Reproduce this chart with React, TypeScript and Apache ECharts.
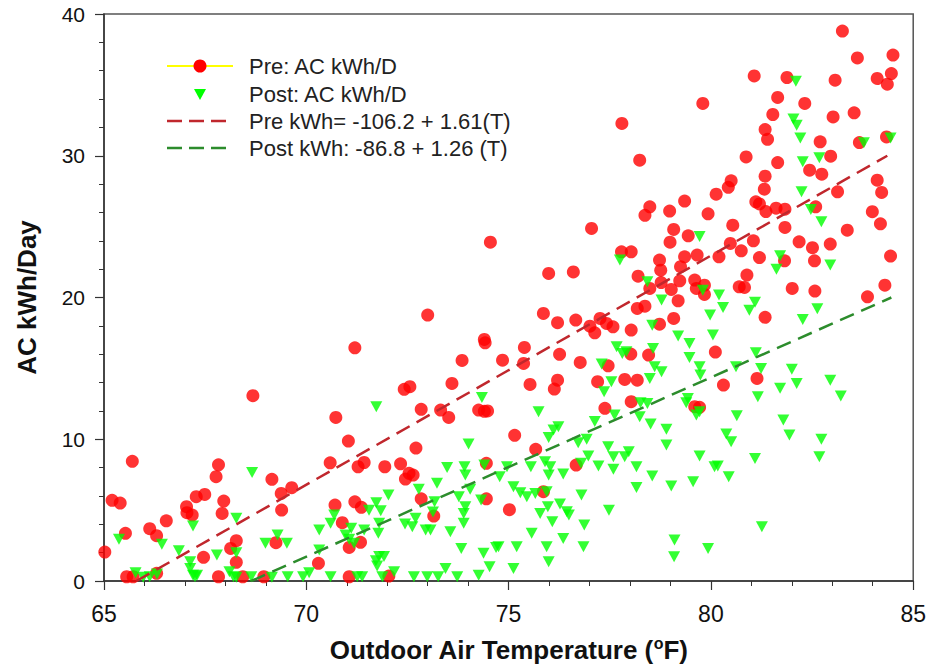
import React, { useEffect, useRef } from "react";
import * as echarts from "echarts";

// Axis settings
const xTicks = [65, 70, 75, 80, 85];
const yTicks = [0, 10, 20, 30, 40];

// Pre-retrofit: outdoor temperature (°F) and AC kWh/day
const preX = [
  65.02, 65.2, 65.4, 65.53, 65.7, 65.56, 65.72, 66.13, 66.3, 66.54, 66.3, 67.04, 67.05, 67.18, 67.28, 67.49,
  67.77, 67.83, 67.96, 67.92, 67.83, 67.46, 68.27, 68.13, 68.27, 68.43, 68.68, 68.95, 69.15, 69.38, 69.64, 69.39,
  69.25, 70.3, 73.0, 71.2, 74.4, 74.42, 73.85, 74.85, 70.73, 72.42, 72.56, 73.6, 72.84, 73.32, 73.52, 74.26,
  74.4, 74.48, 71.04, 72.71, 70.59, 71.28, 71.43, 71.94, 72.33, 72.54, 72.45, 72.64, 74.45, 75.15, 70.71, 71.2,
  71.36, 70.89, 71.06, 71.34, 71.06, 72.04, 72.84, 73.15, 74.45, 75.02, 74.55,
  78.49, 78.37, 78.98, 79.35, 79.93, 77.05, 79.08, 78.99, 79.44, 77.79, 78.03, 78.73, 75.99, 76.6, 78.2, 78.76,
  78.77, 79.35, 79.66, 79.25, 79.23, 79.6, 79.84, 79.64, 79.84, 79.02, 79.19, 78.49, 78.18, 78.37, 79.08, 78.73,
  75.86, 76.21, 76.66, 77.01, 77.13, 77.26, 77.42, 77.58, 78.03, 75.39, 75.37, 76.26, 76.77, 75.53, 76.21, 76.13,
  77.2, 77.87, 78.18, 77.46, 78.02, 78.46, 80.11, 77.38, 78.03, 79.6, 75.67, 76.67, 75.86,
  83.25, 83.62, 84.5, 84.46, 84.36, 84.11, 83.07, 81.07, 81.88, 79.8, 81.65, 82.32, 81.53, 83.02, 83.54, 81.34,
  81.4, 82.7, 83.67, 84.34, 80.87, 81.65, 82.96, 82.44, 82.74, 81.34, 81.32, 80.5, 80.43, 80.13, 84.11, 84.22,
  83.13, 81.11, 81.2, 81.36, 81.61, 81.83, 82.59, 80.54, 81.83, 83.99, 84.19, 83.37, 80.48, 81.05, 80.2, 80.75,
  81.2, 82.18, 82.51, 82.95, 81.82, 82.56, 84.44, 80.89, 80.7, 80.83, 82.01, 82.57, 83.87, 84.3,
  81.34, 80.31, 81.14, 79.72, 77.8, 78.24,
];
const preY = [
  2.04, 5.69, 5.5, 3.36, 8.44, 0.3, 0.3, 3.69, 3.2, 4.25, 0.54, 5.24, 4.82, 4.65, 5.95, 6.11,
  7.36, 8.2, 5.64, 4.77, 0.3, 1.67, 2.84, 2.3, 1.32, 0.3, 13.07, 0.3, 7.17, 6.18, 6.58, 5.0,
  2.7, 1.25, 18.76, 16.45, 17.04, 16.8, 15.56, 15.58, 11.54, 13.52, 13.71, 13.94, 12.11, 12.06, 11.54, 12.06,
  11.97, 12.0, 9.87, 9.38, 8.34, 8.06, 8.36, 8.06, 8.27, 7.6, 7.19, 7.47, 8.3, 10.28, 5.36, 5.59,
  5.2, 4.11, 2.37, 2.73, 0.3, 0.35, 5.8, 4.58, 5.8, 5.03, 23.9,
  26.4, 25.8, 26.1, 26.8, 25.9, 24.87, 24.8, 23.9, 24.35, 23.22, 23.22, 22.64, 21.7, 21.8, 21.5, 21.93,
  21.05, 22.87, 22.99, 22.17, 21.18, 21.23, 20.87, 20.64, 20.22, 20.57, 19.77, 20.64, 19.23, 19.39, 18.52, 18.12,
  18.88, 18.22, 18.41, 17.98, 17.51, 18.52, 18.17, 17.93, 17.7, 16.48, 15.35, 15.99, 15.42, 13.87, 14.17, 13.54,
  14.06, 14.22, 14.17, 15.18, 16.01, 15.94, 16.15, 12.18, 12.65, 12.3, 9.29, 8.18, 6.3,
  38.8, 36.9, 37.1, 35.8, 35.05, 35.45, 35.33, 35.63, 35.52, 33.69, 34.11, 33.69, 32.91, 32.74, 33.03, 31.85,
  31.16, 30.98, 30.93, 31.33, 29.92, 29.52, 29.97, 28.98, 28.7, 28.56, 27.64, 28.23, 27.77, 27.29, 28.28, 27.41,
  27.46, 26.75, 26.6, 26.06, 26.3, 26.23, 26.4, 25.1, 24.94, 26.05, 25.2, 24.75, 23.81, 24.0, 22.87, 23.29,
  22.82, 23.93, 23.51, 23.77, 22.59, 22.59, 22.92, 21.58, 20.75, 20.71, 20.64, 20.45, 20.05, 20.87,
  18.6, 13.82, 14.29, 12.25, 32.28, 29.69,
];

// Post-retrofit: outdoor temperature (°F) and AC kWh/day
const postX = [
  65.37, 65.78, 65.97, 66.13, 66.31, 66.43, 66.85, 67.13, 67.13, 67.2, 67.3, 67.25, 67.2, 67.79, 68.1, 68.27,
  68.27, 68.27, 68.2, 68.64, 68.66, 68.99, 69.29, 69.52, 69.15, 69.54, 69.92, 70.07, 70.32, 70.32,
  70.6, 70.6, 70.69, 70.97, 71.06, 71.11, 71.18, 71.26, 71.38, 71.43, 71.55, 71.73, 71.73, 71.8, 71.78, 71.84,
  71.72, 71.8, 71.92, 71.75, 71.88, 72.03, 72.17, 72.44, 72.62, 72.7, 72.66, 72.78, 72.99, 72.95, 73.07, 73.13,
  73.17, 73.23, 73.26, 73.44, 73.48, 73.56, 73.77, 73.73, 73.89, 73.89, 73.93, 74.01, 73.91, 73.93, 73.83, 74.05,
  74.26, 74.32, 74.34, 74.4, 74.38, 74.53, 74.69, 74.78, 74.96, 75.12, 75.12, 75.2,
  75.29, 75.45, 75.55, 75.66, 75.74, 75.78, 75.94, 75.97, 75.9, 76.03, 75.99, 75.99, 76.11, 76.23, 76.08, 76.27,
  76.44, 76.49, 76.35, 75.57, 75.99, 75.94, 74.75, 76.35, 76.85, 76.87, 76.8, 76.72, 76.93, 76.97, 76.79, 77.13,
  77.22, 77.36, 77.54, 77.48, 77.59, 77.59, 77.46, 77.62, 77.67, 77.75, 77.81, 77.91, 77.87, 77.97, 77.3, 78.16,
  78.16, 78.24, 78.26, 78.43, 78.49, 78.43, 78.55, 78.51, 78.55, 78.57, 78.61, 78.78, 78.78, 78.9, 78.9, 79.02,
  79.1, 79.09, 79.19, 79.39, 79.43, 79.47, 79.47, 79.56, 79.64, 79.72, 79.72, 79.74, 79.72, 79.8, 79.93, 79.98,
  80.05, 80.09,
  82.1, 82.04, 82.12, 82.21, 83.78, 84.44, 82.27, 82.68, 82.24, 82.47, 82.73, 81.71, 81.62, 82.95, 80.2, 80.3,
  81.09, 80.95, 82.63, 82.27, 81.11, 80.62, 81.24, 82.0, 82.12, 81.71, 81.16, 82.95, 83.21, 79.72, 80.64, 81.79,
  80.38, 80.5, 81.94, 82.73, 80.17, 80.44, 81.09, 82.68, 81.26,
];
const postY = [
  2.94, 0.59, 0.26, 0.3, 0.49, 2.59, 2.14, 1.36, 0.89, 0.4, 0.4, 0.3, 3.88, 1.83, 0.66, 2.0,
  4.42, 0.26, 0.3, 0.3, 7.66, 2.66, 3.24, 2.66, 0.26, 0.3, 0.3, 0.59, 3.6, 2.19,
  0.3, 4.07, 4.65, 3.24, 2.94, 3.72, 2.66, 0.3, 0.3, 3.6, 5.0, 12.3, 5.52, 4.07, 3.36, 4.96,
  1.43, 1.72, 1.72, 1.06, 0.3, 6.06, 0.66, 4.02, 3.83, 4.42, 0.3, 6.47, 0.3, 3.6, 3.6, 4.87,
  5.59, 6.89, 0.3, 0.89, 8.0, 3.48, 5.95, 0.3, 4.07, 4.77, 5.24, 9.66, 8.06, 7.47, 2.3, 6.47,
  0.4, 5.71, 12.94, 8.18, 1.95, 1.01, 2.37, 7.35, 8.06, 6.65, 0.89, 2.42,
  6.23, 5.95, 8.06, 6.18, 11.94, 4.77, 6.3, 5.24, 8.41, 8.06, 7.47, 10.13, 10.65, 10.88, 4.18, 5.43,
  4.89, 4.65, 7.55, 3.36, 1.36, 2.42, 2.42, 3.0, 2.42, 3.95, 6.06, 9.76, 10.0, 8.82, 8.3, 11.25,
  8.11, 13.35, 14.06, 5.0, 8.77, 7.88, 9.47, 11.71, 16.52, 22.64, 16.05, 16.17, 8.77, 9.12, 15.3, 8.06,
  6.6, 11.59, 12.58, 12.53, 14.29, 21.11, 18.05, 11.07, 7.41, 16.4, 15.11, 14.76, 19.82, 10.7, 9.59, 6.7,
  2.89, 1.71, 17.28, 12.58, 12.88, 16.76, 15.77, 7.0, 11.71, 8.81, 15.11, 14.53, 24.3, 20.52, 2.3, 18.76,
  17.35, 8.06,
  35.26, 32.6, 32.16, 31.26, 30.92, 31.26, 29.57, 29.86, 27.46, 26.2, 25.34, 22.94, 22.0, 22.29, 20.17, 19.3,
  19.67, 19.1, 19.2, 18.45, 16.1, 15.11, 15.0, 14.93, 13.94, 13.59, 13.0, 14.17, 13.05, 11.94, 11.66, 11.35,
  10.37, 9.82, 10.3, 10.0, 8.11, 7.36, 8.65, 8.77, 3.83,
];

// Regression lines (end points as drawn)
const preFitX = [65.8, 84.36];
const preFitY = [0.0, 30.0];
const postFitX = [68.64, 84.46];
const postFitY = [0.0, 20.0];

// Legend labels
const legendLabels = [
  "Pre: AC kWh/D",
  "Post: AC kWh/D",
  "Pre kWh= -106.2 + 1.61(T)",
  "Post kWh: -86.8 + 1.26 (T)",
];

const FONT = '"Liberation Sans", Arial, Helvetica, sans-serif';
const RED = "#ff0000";
const GREEN = "#00ff00";
const RED_DASH = "#c0272d";
const GREEN_DASH = "#2c8c2c";

export default function App() {
  const ref = useRef<HTMLDivElement>(null);

  useEffect(() => {
    if (!ref.current) return;
    const chart = echarts.init(ref.current, undefined, { renderer: "svg" });

    const pre = preX.map((x, i) => [x, preY[i]]);
    const post = postX.map((x, i) => [x, postY[i]]);
    const preFit = preFitX.map((x, i) => [x, preFitY[i]]);
    const postFit = postFitX.map((x, i) => [x, postFitY[i]]);

    const legendRows = [66, 94, 121, 148];
    const textX = 249;
    const lineX0 = 167;
    const lineX1 = 227;

    const axisCommon = {
      axisLine: { show: true, lineStyle: { color: "#333", width: 1.5 } },
      axisTick: { show: true, inside: false, length: 9, lineStyle: { color: "#333", width: 1.2 } },
      minorTick: { show: true, splitNumber: 5, length: 5, lineStyle: { color: "#333", width: 1 } },
      splitLine: { show: false },
      minorSplitLine: { show: false },
    };

    chart.setOption({
      animation: false,
      backgroundColor: "#ffffff",
      grid: {
        left: 104,
        right: 13,
        top: 14,
        bottom: 87,
        show: true,
        borderColor: "#555",
        borderWidth: 1.5,
        backgroundColor: "transparent",
      },
      xAxis: {
        type: "value",
        min: xTicks[0],
        max: xTicks[xTicks.length - 1],
        interval: xTicks[1] - xTicks[0],
        ...axisCommon,
        axisLabel: {
          color: "#111",
          fontSize: 23,
          fontFamily: FONT,
          margin: 21,
        },
        name: "{t|Outdoor Air Temperature (}{s|o}{t|F)}",
        nameLocation: "middle",
        nameGap: 54,
        nameTextStyle: {
          rich: {
            t: { fontSize: 26, fontWeight: "bold", fontFamily: FONT, color: "#111", lineHeight: 30 },
            s: { fontSize: 16, fontWeight: "bold", fontFamily: FONT, color: "#111", verticalAlign: "top", lineHeight: 14 },
          },
        },
      },
      yAxis: {
        type: "value",
        min: yTicks[0],
        max: yTicks[yTicks.length - 1],
        interval: yTicks[1] - yTicks[0],
        ...axisCommon,
        axisLabel: {
          color: "#111",
          fontSize: 21,
          fontFamily: FONT,
          margin: 19,
        },
        name: "AC kWh/Day",
        nameLocation: "middle",
        nameRotate: 90,
        nameGap: 64,
        nameTextStyle: {
          fontSize: 26,
          fontWeight: "bold",
          fontFamily: FONT,
          color: "#111",
        },
      },
      series: [
        {
          name: legendLabels[0],
          type: "scatter",
          data: pre,
          symbol: "circle",
          symbolSize: 13,
          itemStyle: { color: RED },
          z: 2,
        },
        {
          name: legendLabels[1],
          type: "scatter",
          data: post,
          symbol: "triangle",
          symbolRotate: 180,
          symbolSize: [12, 11],
          itemStyle: { color: GREEN },
          z: 3,
        },
        {
          name: legendLabels[2],
          type: "line",
          data: preFit,
          symbol: "none",
          silent: true,
          lineStyle: { color: RED_DASH, width: 2.5, type: [15, 8] },
          z: 4,
        },
        {
          name: legendLabels[3],
          type: "line",
          data: postFit,
          symbol: "none",
          silent: true,
          lineStyle: { color: GREEN_DASH, width: 2.5, type: [15, 8] },
          z: 4,
        },
      ],
      graphic: [
        {
          type: "line",
          shape: { x1: lineX0, y1: legendRows[0], x2: lineX0 + 66, y2: legendRows[0] },
          style: { stroke: "#ffff00", lineWidth: 2 },
          z: 10,
        },
        {
          type: "circle",
          shape: { cx: 200, cy: legendRows[0], r: 6.5 },
          style: { fill: RED },
          z: 11,
        },
        {
          type: "polygon",
          shape: { points: [[194, legendRows[1] - 5], [206, legendRows[1] - 5], [200, legendRows[1] + 6]] },
          style: { fill: GREEN },
          z: 11,
        },
        {
          type: "line",
          shape: { x1: lineX0, y1: legendRows[2], x2: lineX1, y2: legendRows[2] },
          style: { stroke: RED_DASH, lineWidth: 2.5, lineDash: [15, 7] },
          z: 10,
        },
        {
          type: "line",
          shape: { x1: lineX0, y1: legendRows[3], x2: lineX1, y2: legendRows[3] },
          style: { stroke: GREEN_DASH, lineWidth: 2.5, lineDash: [15, 7] },
          z: 10,
        },
        ...legendLabels.map((label, i) => ({
          type: "text",
          x: textX,
          y: legendRows[i],
          style: {
            text: label,
            fill: "#222",
            fontSize: 22,
            fontFamily: FONT,
            verticalAlign: "middle",
            align: "left",
          },
          z: 11,
        })),
      ],
    });

    return () => {
      chart.dispose();
    };
  }, []);

  return (
    <div
      ref={ref}
      style={{ position: "absolute", left: 0, top: 0, width: 929, height: 668, background: "#fff" }}
    />
  );
}
